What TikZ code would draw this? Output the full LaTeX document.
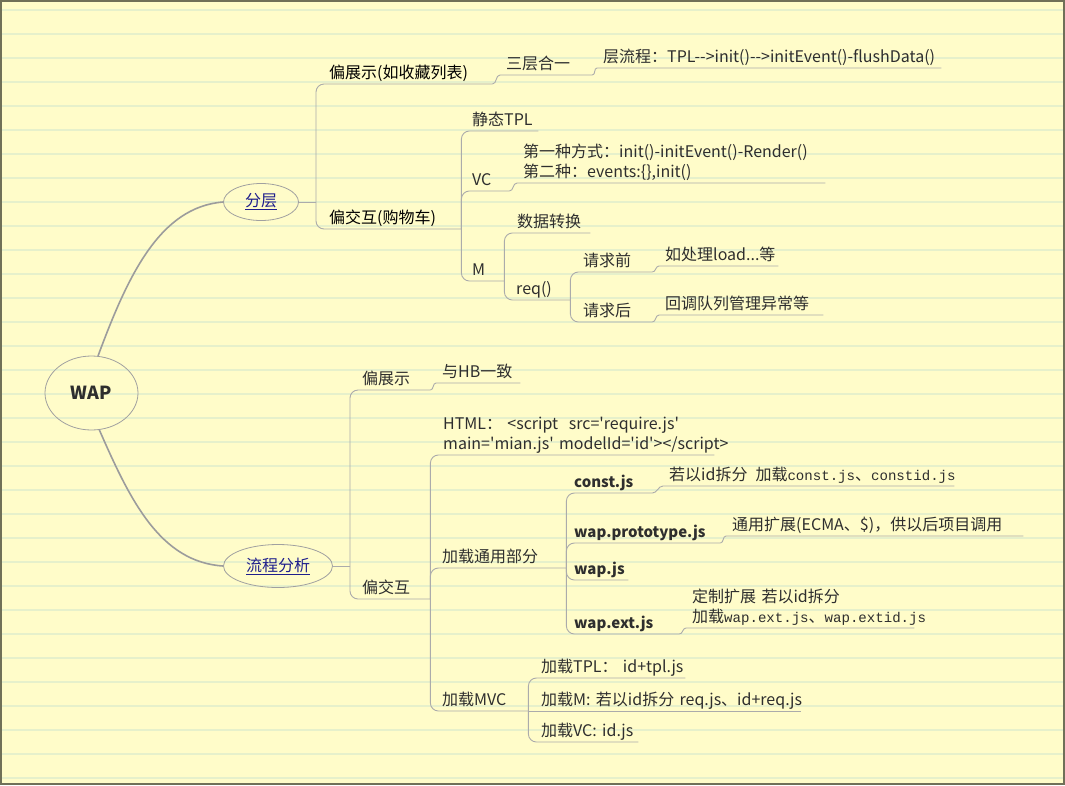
\documentclass[tikz,border=0pt]{standalone}
\usepackage{fontspec}
\setmainfont{Noto Sans CJK SC}[Ligatures=TeXOff]
\newfontfamily\simlatin{Liberation Mono}[Scale=0.88]
\usepackage{xcolor}
\usetikzlibrary{shapes.geometric}

\definecolor{paper}{HTML}{FFFCC9}
\definecolor{ruling}{HTML}{E6F0CB}
\definecolor{frame}{HTML}{707058}
\definecolor{ink}{HTML}{2E2E2E}
\definecolor{linkblue}{HTML}{1E1E8C}
\definecolor{branchgray}{HTML}{ABABAB}
\definecolor{trunkgray}{HTML}{9C9C9C}
\definecolor{hubgray}{HTML}{A0A0A0}

\begin{document}
\begin{tikzpicture}[
    x=1pt, y=-1pt,
    topic/.style={anchor=south west, inner xsep=6pt, inner ysep=2.5pt, text depth=3pt,
      text width=#1, align=left, font=\fontsize{16}{20}\selectfont, text=ink},
    jsfile/.style={topic=#1, font=\fontsize{15}{20}\selectfont\bfseries},
    hub/.style={ellipse, draw=hubgray, line width=0.8pt, inner sep=0pt,
      font=\fontsize{16}{20}\selectfont, text=linkblue},
    branch/.style={draw=branchgray, line width=0.9pt, rounded corners=8pt},
    link/.style={draw=branchgray, line width=0.9pt},
    trunk/.style={draw=trunkgray, line width=1.6pt}
  ]
  % Paper
  \useasboundingbox (0,0) rectangle (1065,785);
  \fill[paper] (0,0) rectangle (1065,785);
  \foreach \k in {0,...,32}
    \draw[ruling, line width=1.5pt] (0,{10+24*\k}) -- (1065,{10+24*\k});
  \draw[frame, line width=2pt] (1,1) rectangle (1064,784);

  % Root and main topics
  \node[hub, minimum width=93pt, minimum height=74pt, text=ink,
    font=\fontsize{18}{20}\selectfont\bfseries] (wap) at (91.5,393) {WAP};
  \node[hub, minimum width=75pt, minimum height=37pt] (fenceng) at (261,202) {\underline{分层}};
  \node[hub, minimum width=109pt, minimum height=43pt] (liucheng) at (278,566) {\underline{流程分析}};

  % Layers
  \node[topic=157, text=black] (showA) at (323,84) {偏展示(如收藏列表)};
  \node[topic=126, text=black] (actA) at (323,229) {偏交互(购物车)};
  \node[topic=80] (three) at (500,75) {三层合一};
  \node[topic=332] (flow) at (597,68) {层流程：TPL-->init()-->initEvent()-flushData()};
  \node[topic=60] (tpl) at (466,131) {静态TPL};
  \node[topic=31] (vc) at (466,191) {VC};
  \node[topic=26] (m) at (466,281) {M};
  \node[topic=296] (vcways) at (517,183) {\begin{tabular}[b]{@{}l@{}}第一种方式：init()-initEvent()-Render()\\第二种：events:\{\},init()\end{tabular}};
  \node[topic=67] (convert) at (511,233) {数据转换};
  \node[topic=48] (req) at (510,300) {req()};
  \node[topic=63] (before) at (577,272) {请求前};
  \node[topic=63] (after) at (577,322) {请求后};
  \node[topic=107] (loading) at (659,266) {如处理load...等};
  \node[topic=152] (callback) at (659,315) {回调队列管理异常等};

  % Flow analysis
  \node[topic=62] (showB) at (356,390) {偏展示};
  \node[topic=62] (actB) at (356,599) {偏交互};
  \node[topic=72] (hb) at (436,383) {与HB一致};
  \node[topic=265] (html) at (437,455) {\begin{tabular}[b]{@{}l@{}}HTML：~<script~~src='require.js'\\main='mian.js' modelId='id'></script>\end{tabular}};
  \node[topic=118] (common) at (436,568) {加载通用部分};
  \node[topic=80] (mvc) at (436,711) {加载MVC};
  \node[jsfile=72] (constjs) at (568,493) {const.js};
  \node[jsfile=140] (protojs) at (568,543) {wap.prototype.js};
  \node[jsfile=48] (wapjs) at (568,580) {wap.js};
  \node[jsfile=99] (extjs) at (568,634) {wap.ext.js};
  \node[topic=279] (constnote) at (663,486) {若以id拆分\enspace 加载{\simlatin const.js}、{\simlatin constid.js}};
  \node[topic=285] (protonote) at (726,536) {通用扩展(ECMA、\$)，供以后项目调用};
  \node[topic=216] (extnote) at (686,628) {\begin{tabular}[b]{@{}l@{}}定制扩展~若以id拆分\\加载{\simlatin wap.ext.js}、{\simlatin wap.extid.js}\end{tabular}};
  \node[topic=138] (loadtpl) at (535,678) {加载TPL：~id+tpl.js};
  \node[topic=254] (loadm) at (535,711) {加载M:~若以id拆分~req.js、id+req.js};
  \node[topic=91] (loadvc) at (535,742) {加载VC:~id.js};

  % Trunks
  \draw[trunk] (wap.80) .. controls (128,275) and (160,207) .. (fenceng.west);
  \draw[trunk] (wap.-78) .. controls (130,500) and (160,562) .. (liucheng.west);

  % Layers connectors
  \coordinate (forkA) at (316,202);
  \draw[branch] (fenceng.east) -- (forkA);
  \draw[branch] (forkA) |- (showA.south east);
  \draw[branch] (forkA) |- (actA.south east);
  \draw[link] (showA.south east) to[out=0,in=180] (three.south west) -- (three.south east);
  \draw[link] (three.south east) to[out=0,in=180] (flow.south west) -- (flow.south east);
  \draw[branch] (actA.south east) |- (tpl.south east);
  \draw[branch] (actA.south east) |- (vc.south east);
  \draw[branch] (actA.south east) |- (m.south east);
  \draw[link] (vc.south east) to[out=0,in=180] (vcways.south west) -- (vcways.south east);
  \draw[branch] (m.south east) |- (convert.south east);
  \draw[branch] (m.south east) |- (req.south east);
  \draw[branch] (req.south east) |- (before.south east);
  \draw[branch] (req.south east) |- (after.south east);
  \draw[link] (before.south east) to[out=0,in=180] (loading.south west) -- (loading.south east);
  \draw[link] (after.south east) to[out=0,in=180] (callback.south west) -- (callback.south east);

  % Flow connectors
  \coordinate (forkB) at (350,566);
  \draw[branch] (liucheng.east) -- (forkB);
  \draw[branch] (forkB) |- (showB.south east);
  \draw[branch] (forkB) |- (actB.south east);
  \draw[link] (showB.south east) to[out=0,in=180] (hb.south west) -- (hb.south east);
  \draw[branch] (actB.south east) |- (html.south east);
  \draw[branch] (actB.south east) |- (common.south east);
  \draw[branch] (actB.south east) |- (mvc.south east);
  \draw[branch] (common.south east) |- (constjs.south east);
  \draw[branch] (common.south east) |- (protojs.south east);
  \draw[branch] (common.south east) |- (wapjs.south east);
  \draw[branch] (common.south east) |- (extjs.south east);
  \draw[link] (constjs.south east) to[out=0,in=180] (constnote.south west) -- (constnote.south east);
  \draw[link] (protojs.south east) to[out=0,in=180] (protonote.south west) -- (protonote.south east);
  \draw[link] (extjs.south east) to[out=0,in=180] (extnote.south west) -- (extnote.south east);
  \draw[branch] (mvc.south east) |- (loadtpl.south east);
  \draw[branch] (mvc.south east) -- (loadm.south east);
  \draw[branch] (mvc.south east) |- (loadvc.south east);
\end{tikzpicture}
\end{document}
